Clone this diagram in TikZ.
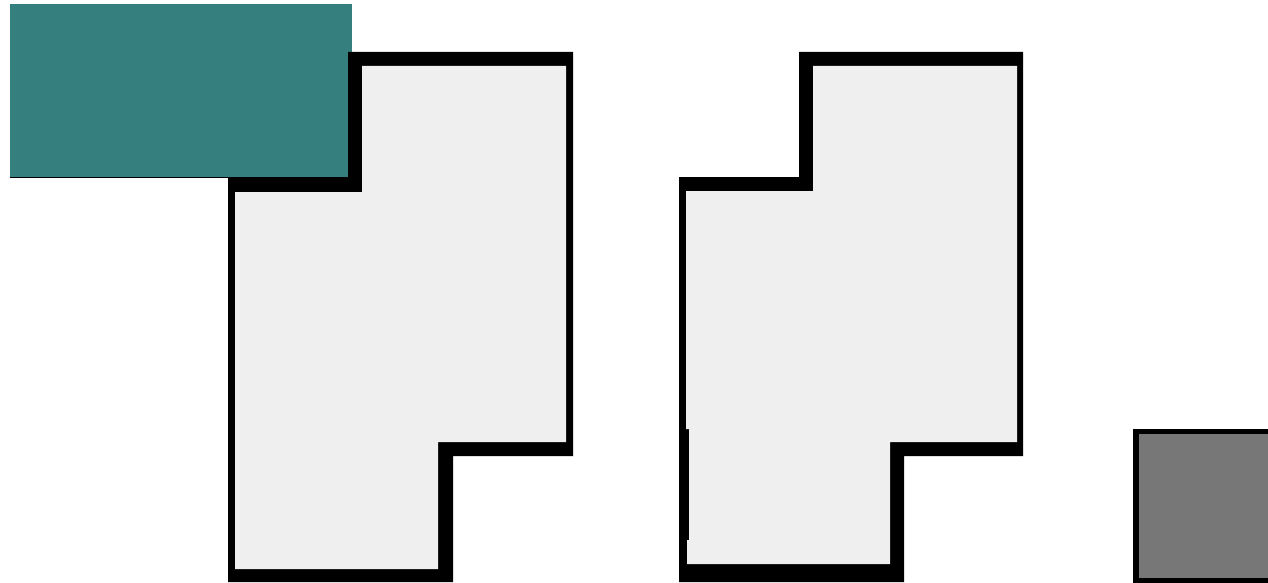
\documentclass[tikz,border=0pt]{standalone}
\definecolor{tealbox}{HTML}{357F7F}
\definecolor{planfill}{HTML}{EFEFEF}
\definecolor{greybox}{HTML}{777777}
\tikzset{
  wall/.style={fill=black},
  floor/.style={fill=planfill},
}
\begin{document}
\begin{tikzpicture}[x=1pt,y=-1pt]
\useasboundingbox (0,0) rectangle (1268,583);
% teal block
\fill[tealbox] (10,4) rectangle (352,177);
\draw[black,line width=1.2pt] (10,177.6) -- (352,177.6);
% left plan
\fill[wall] (228,177) -- (348,177) -- (348,52) -- (573,52) -- (573,456) -- (453,456) -- (453,582) -- (228,582) -- cycle;
\fill[floor] (235,192) -- (362,192) -- (362,66) -- (566,66) -- (566,442) -- (438,442) -- (438,569) -- (235,569) -- cycle;
% right plan
\fill[wall] (679,177) -- (799,177) -- (799,52) -- (1023,52) -- (1023,456) -- (904,456) -- (904,582) -- (679,582) -- cycle;
\fill[floor] (686,191) -- (813,191) -- (813,66) -- (1017,66) -- (1017,442) -- (890,442) -- (890,564) -- (687,564) -- (687,540) -- (689,540) -- (689,429) -- (686,429) -- cycle;
% grey square
\fill[black] (1133,429) rectangle (1268,583);
\fill[greybox] (1139,434) rectangle (1268,578);
\end{tikzpicture}
\end{document}
